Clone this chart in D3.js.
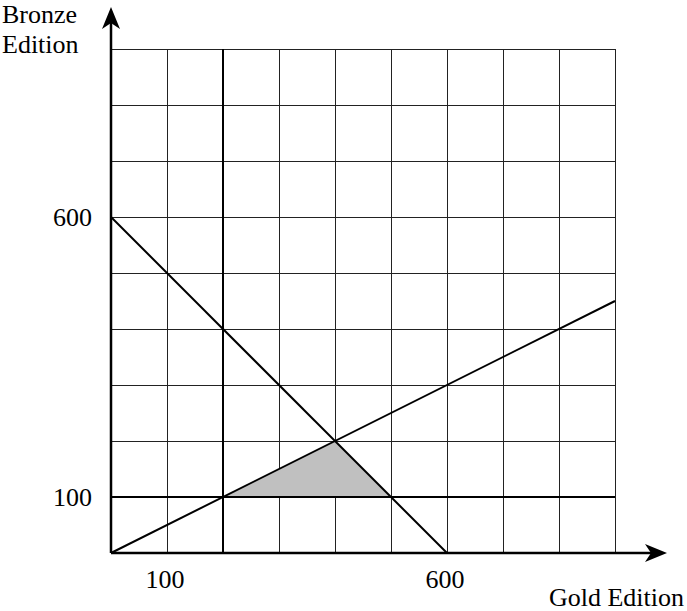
<!DOCTYPE html>
<html><head><meta charset="utf-8">
<script src="https://cdn.jsdelivr.net/npm/d3@7"></script>
<style>body{margin:0;background:#fff}svg{display:block}text{font-family:"Liberation Serif","Times New Roman",serif;font-size:26px;fill:#000}</style>
</head><body>
<svg id="c" width="687" height="611"></svg>
<script>
const gridTicks = [0,100,200,300,400,500,600,700,800,900];
const xTickLabels = [100, 600];
const yTickLabels = [100, 600];
const lineA = [[0,600],[600,0]];      // x + y = 600
const lineB = [[0,0],[900,450]];      // y = x/2
const lineC = [[200,0],[200,900]];    // x = 200
const lineD = [[0,100],[900,100]];    // y = 100
const region = [[200,100],[400,200],[500,100]];
const xLabel = "Gold Edition";
const yLabel = ["Bronze","Edition"];

const svg = d3.select("#c");
const x = d3.scaleLinear().domain([0,900]).range([111,615]);
const y = d3.scaleLinear().domain([0,900]).range([553,49]);

// grid
const g = svg.append("g").attr("stroke","#222").attr("stroke-width",1);
gridTicks.forEach(t=>{
  g.append("line").attr("x1",x(t)+0.5).attr("x2",x(t)+0.5).attr("y1",y(0)).attr("y2",y(900));
  g.append("line").attr("y1",y(t)+0.5).attr("y2",y(t)+0.5).attr("x1",x(0)).attr("x2",x(900));
});

// region
svg.append("path").attr("d",d3.line().x(d=>x(d[0])).y(d=>y(d[1]))(region)+"Z")
  .attr("fill","#c0c0c0").attr("stroke","none");

const ln = d3.line().x(d=>x(d[0])).y(d=>y(d[1]));
[lineA,lineB,lineC,lineD].forEach(l=>{
  svg.append("path").attr("d",ln(l)).attr("stroke","#000").attr("stroke-width",2).attr("fill","none");
});

// axes
svg.append("line").attr("x1",x(0)).attr("x2",655).attr("y1",y(0)).attr("y2",y(0)).attr("stroke","#000").attr("stroke-width",2.5);
svg.append("line").attr("x1",x(0)).attr("x2",x(0)).attr("y1",y(0)).attr("y2",20).attr("stroke","#000").attr("stroke-width",2.5);
svg.append("path").attr("d",`M667,${y(0)} L645,${y(0)-9} L651,${y(0)} L645,${y(0)+9} Z`).attr("fill","#000");
svg.append("path").attr("d",`M${x(0)},7 L${x(0)-9},29 L${x(0)},23 L${x(0)+9},29 Z`).attr("fill","#000");

// tick labels
xTickLabels.forEach(v=>svg.append("text").attr("x",x(v)-2).attr("y",588).attr("text-anchor","middle").text(v));
yTickLabels.forEach(v=>svg.append("text").attr("x",92).attr("y",y(v)+9).attr("text-anchor","end").text(v));

svg.append("text").attr("x",684).attr("y",606).attr("text-anchor","end").text(xLabel);
yLabel.forEach((s,i)=>svg.append("text").attr("x",2).attr("y",23+i*30).text(s));
</script>
</body></html>
